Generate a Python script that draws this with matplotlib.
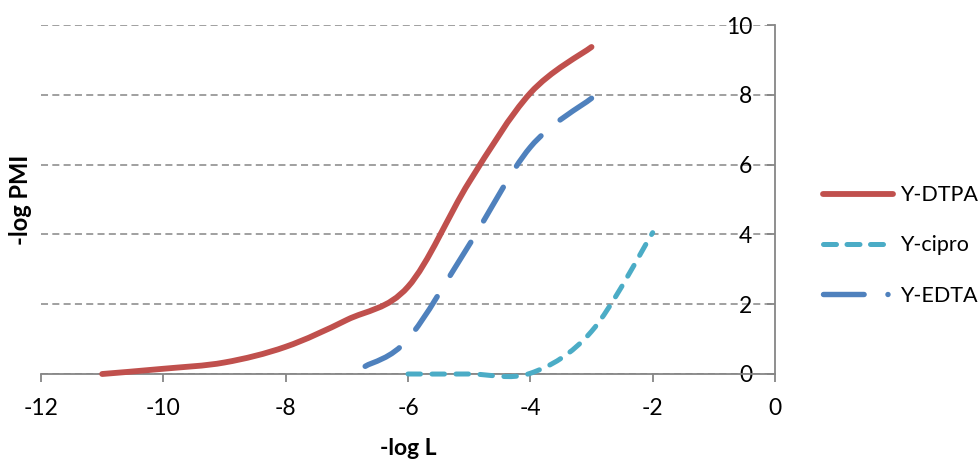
import matplotlib
matplotlib.use('Agg')
import matplotlib.pyplot as plt
from matplotlib.path import Path
from matplotlib.patches import PathPatch
from matplotlib.lines import Line2D
import numpy as np

# ---- data ----
dtpa_x = [-11, -10, -9, -8, -7, -6, -5, -4, -3]
dtpa_y = [0.0, 0.15, 0.33, 0.78, 1.55, 2.5, 5.5, 8.05, 9.37]
cipro_x = [-6, -5, -4, -3, -2]
cipro_y = [0.0, 0.0, 0.02, 1.22, 4.05]
edta_x = [-6.7, -6, -5, -4, -3]
edta_y = [0.22, 1.0, 3.7, 6.5, 7.9]
series_names = ['Y-DTPA', 'Y-cipro', 'Y-EDTA']
x_ticks = list(range(-12, 1, 2))
y_ticks = list(range(0, 11, 2))

RED = '#C0504D'
TEAL = '#4BACC6'
BLUE = '#4F81BD'
GRAY = '#868686'

plt.rcParams['font.family'] = ['Lato', 'DejaVu Sans']
plt.rcParams['axes.unicode_minus'] = False


def smooth_path(xs, ys):
    """Excel-like smoothed line (Catmull-Rom as cubic Bezier)."""
    pts = np.column_stack([xs, ys]).astype(float)
    n = len(pts)
    verts = [pts[0]]
    codes = [Path.MOVETO]
    for i in range(n - 1):
        p0 = pts[i - 1] if i > 0 else pts[i]
        p1 = pts[i]
        p2 = pts[i + 1]
        p3 = pts[i + 2] if i + 2 < n else pts[i + 1]
        c1 = p1 + (p2 - p0) / 6.0
        c2 = p2 - (p3 - p1) / 6.0
        verts += [c1, c2, p2]
        codes += [Path.CURVE4] * 3
    return Path(verts, codes)


fig = plt.figure(figsize=(9.8, 4.59), dpi=100)
ax = fig.add_axes([41 / 980, 85 / 459, 734 / 980, 349 / 459])
ax.set_xlim(-12, 0)
ax.set_ylim(0, 10)

# gridlines
ax.set_axisbelow(True)
ax.yaxis.grid(True, color=GRAY, lw=1.1, ls=(0, (4.6, 2.8)))
ax.xaxis.grid(False)

# spines
for s in ['top', 'right']:
    ax.spines[s].set_visible(False)
ax.spines['left'].set_position(('data', 0))
for s in ['left', 'bottom']:
    ax.spines[s].set_color(GRAY)
    ax.spines[s].set_linewidth(1.3)

ax.set_xticks(x_ticks)
ax.set_yticks(y_ticks)
ax.tick_params(axis='both', direction='out', length=5.5, width=1.3,
               color=GRAY, labelsize=16.5, labelcolor='black')
ax.tick_params(axis='x', pad=12)
ax.tick_params(axis='y', pad=11)

# series
p1 = PathPatch(smooth_path(dtpa_x, dtpa_y), fill=False, edgecolor=RED,
               lw=4.2, capstyle='round', joinstyle='round', clip_on=False, zorder=5)
p2 = PathPatch(smooth_path(cipro_x, cipro_y), fill=False, edgecolor=TEAL,
               lw=3.6, ls=(0, (2.5, 2.3)), capstyle='round', joinstyle='round',
               clip_on=False, zorder=4)
p3 = PathPatch(smooth_path(edta_x, edta_y), fill=False, edgecolor=BLUE,
               lw=3.9, ls=(0, (7.2, 4.6)), capstyle='round', joinstyle='round',
               clip_on=False, zorder=4)
for p in (p1, p2, p3):
    ax.add_patch(p)

# legend
h1 = Line2D([], [], color=RED, lw=4.2, solid_capstyle='round')
h2 = Line2D([], [], color=TEAL, lw=3.6, ls=(0, (2.6, 2.1)), dash_capstyle='round')
h3 = Line2D([], [], color=BLUE, lw=3.9, ls=(0, (7.5, 4.4, 0.01, 4.4)), dash_capstyle='round')
fig.legend([h1, h2, h3], series_names, loc='center left',
           bbox_to_anchor=(823 / 980, (459 - 245.5) / 459),
           frameon=False, fontsize=15.5, handlelength=3.25, handletextpad=0.35,
           labelspacing=1.4, borderpad=0, borderaxespad=0)

# axis titles
fig.text(20.5 / 980, (459 - 199.5) / 459, '-log PMI', rotation=90,
         ha='center', va='center', fontsize=17, fontweight='bold')
fig.text(408 / 980, (459 - 455) / 459, '-log L', ha='center', va='baseline',
         fontsize=16.5, fontweight='bold')

fig.savefig('out.png', dpi=100)
